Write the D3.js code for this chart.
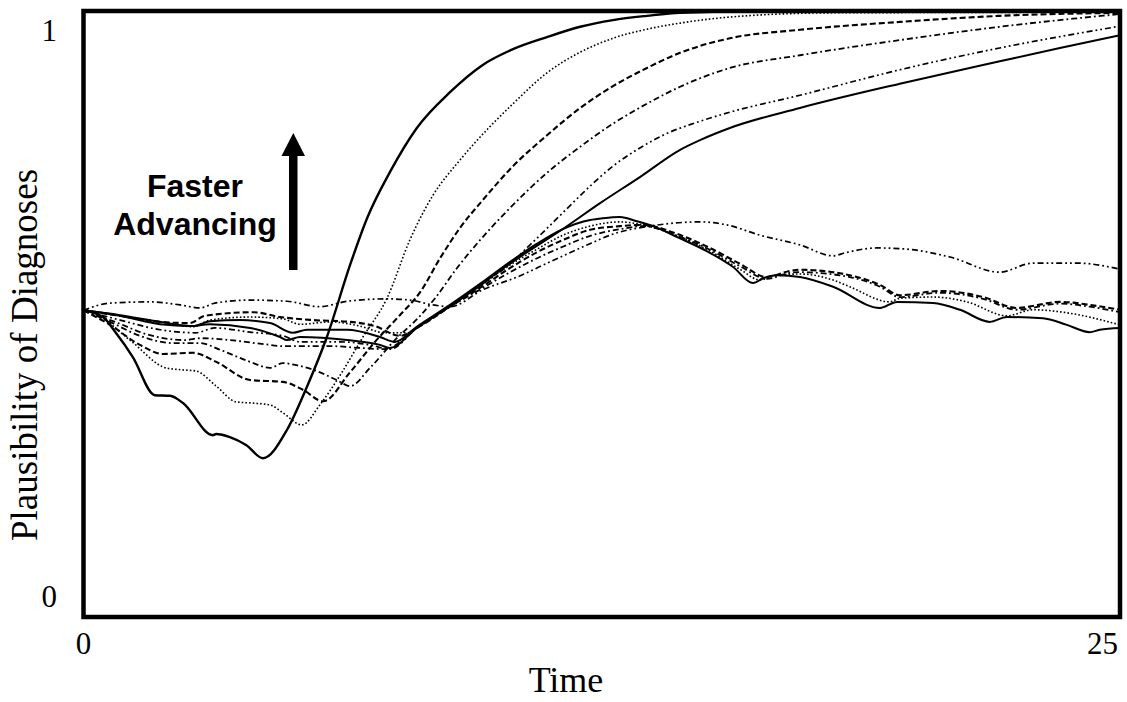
<!DOCTYPE html>
<html><head><meta charset="utf-8">
<script src="https://cdn.jsdelivr.net/npm/d3@7"></script>
<style>html,body{margin:0;padding:0;background:#fff;} svg{display:block;}</style>
</head><body>
<svg id="chart" width="1127" height="702"></svg>
<script>
// ---------- data ----------
const xTickValues = [0, 25];
const yTickValues = [0, 1];
const xTitle = "Time";
const yTitle = "Plausibility of Diagnoses";
const annotationLines = ["Faster", "Advancing"];

// fastest advancing (solid, heavy)
const runA_t = [0, .47, .78, 1.19, 1.72, 2.09, 2.40, 3.12, 3.20, 3.53, 3.92, 4.33, 4.91, 5.39, 5.87, 6.43, 6.84, 7.39, 8.04, 8.84, 9.63, 10.36, 11.18, 11.98, 12.77, 13.59, 14.39, 16.08, 25];
const runA_v = [.506, .495, .469, .429, .366, .365, .353, .300, .302, .297, .284, .262, .309, .380, .462, .581, .658, .734, .807, .866, .911, .937, .957, .974, .985, .992, .997, .999, 1.0];
// dotted
const runB_t = [0, .23, 1.12, 1.99, 2.35, 2.71, 3.20, 3.68, 4.09, 4.50, 4.81, 5.27, 5.70, 6.19, 6.74, 7.32, 7.87, 8.43, 9.08, 9.80, 10.36, 11.18, 11.98, 12.77, 13.59, 14.39, 15.59, 18.08, 25];
const runB_v = [.506, .502, .457, .411, .408, .406, .381, .355, .353, .350, .337, .317, .350, .399, .462, .526, .622, .696, .754, .809, .847, .898, .932, .955, .970, .980, .990, .997, .998];
// dashed
const runC_t = [0, .64, 1.36, 1.92, 2.64, 3.20, 4.02, 4.81, 5.29, 5.78, 6.43, 7.03, 7.63, 8.12, 8.60, 9.08, 9.63, 10.36, 11.18, 11.98, 12.77, 13.59, 14.39, 15.59, 17.28, 19.69, 22.10, 25];
const runC_v = [.506, .482, .449, .434, .436, .421, .391, .388, .375, .356, .404, .454, .498, .536, .592, .642, .688, .744, .795, .840, .876, .906, .931, .955, .969, .982, .992, .997];
// dash-dot
const runD_t = [0, .64, 1.36, 2.16, 2.81, 3.29, 4.02, 4.50, 4.81, 5.10, 5.54, 6.11, 6.43, 6.91, 7.51, 8.12, 8.48, 9.01, 9.63, 10.36, 11.18, 11.98, 12.77, 13.59, 14.39, 14.87, 15.59, 17.28, 19.69, 22.10, 25];
const runD_v = [.506, .487, .464, .452, .452, .441, .421, .411, .419, .416, .408, .391, .381, .411, .457, .497, .526, .576, .627, .680, .733, .776, .814, .847, .875, .889, .906, .927, .952, .974, .995];
// dash-dot-dot
const runE_t = [0, .88, 1.85, 2.71, 3.17, 4.02, 4.81, 5.22, 6.19, 6.91, 7.39, 8.04, 8.84, 9.63, 10.17, 10.77, 11.56, 12.22, 12.77, 13.42, 13.98, 14.87, 15.59, 17.28, 19.69, 22.10, 25];
const runE_v = [.506, .490, .474, .469, .477, .470, .464, .454, .454, .449, .442, .477, .513, .550, .576, .614, .667, .711, .744, .774, .795, .818, .833, .861, .903, .939, .975];
// solid (slowest to rise)
const runF_t = [0, .88, 1.85, 2.57, 3.05, 4.02, 4.74, 4.91, 5.22, 6.36, 7.15, 7.39, 8.04, 8.84, 9.63, 9.97, 10.70, 11.49, 12.46, 13.42, 14.39, 14.87, 15.59, 17.28, 19.69, 22.10, 23.55, 25];
const runF_v = [.506, .497, .483, .480, .483, .477, .462, .457, .462, .457, .449, .444, .477, .513, .550, .568, .602, .637, .683, .726, .771, .787, .807, .840, .880, .917, .939, .960];
// alternative diagnoses (do not take over)
const altG_t = [0, .64, 1.60, 2.33, 2.81, 3.17, 4.02, 4.91, 5.70, 6.36, 7.32, 7.87, 8.43, 8.84, 9.63, 10.46, 11.25, 12.05, 12.87, 13.66, 14.87, 15.52, 16.32, 17.28, 18.08, 18.37, 19.14, 19.86, 20.90, 22.10, 22.90, 23.96, 25];
const altG_v = [.506, .518, .520, .515, .510, .518, .523, .521, .512, .521, .525, .523, .515, .512, .540, .561, .586, .611, .634, .645, .652, .647, .630, .614, .596, .601, .609, .607, .594, .569, .584, .584, .574];
const altH_t = [0, .78, 1.85, 2.57, 2.93, 4.09, 4.74, 5.54, 6.43, 7.03, 7.63, 8.04, 8.84, 9.63, 10.29, 10.94, 11.56, 12.22, 12.94, 13.50, 14.32, 15.11, 15.83, 16.48, 17.04, 17.28, 18.48, 19.21, 19.69, 20.66, 21.70, 22.51, 23.55, 24.27, 25];
const altH_v = [.506, .498, .487, .485, .497, .503, .495, .490, .487, .480, .464, .477, .512, .546, .576, .602, .622, .639, .645, .647, .632, .609, .583, .561, .571, .573, .564, .548, .531, .538, .528, .510, .520, .515, .507];
const altI_t = [0, .88, 1.85, 2.64, 3.05, 4.02, 4.81, 5.22, 5.95, 6.67, 7.27, 7.83, 8.04, 8.84, 9.63, 10.29, 10.94, 11.56, 12.22, 12.94, 13.50, 14.32, 15.11, 15.83, 16.32, 16.68, 17.28, 18.08, 18.48, 19.45, 19.69, 20.49, 21.31, 22.27, 22.90, 23.72, 25];
const altI_v = [.506, .497, .487, .479, .490, .495, .492, .483, .487, .480, .469, .469, .477, .513, .550, .581, .607, .630, .645, .652, .647, .629, .604, .574, .556, .564, .566, .556, .545, .520, .526, .528, .520, .497, .507, .502, .482];
const altJ_t = [0, .88, 1.85, 2.64, 3.05, 3.77, 4.50, 5.05, 5.39, 6.36, 7.15, 7.51, 8.04, 8.84, 9.63, 10.29, 10.94, 11.56, 12.22, 12.53, 12.94, 13.35, 13.74, 14.32, 15.11, 15.66, 16.15, 16.39, 16.73, 17.28, 18.08, 19.21, 19.62, 20.49, 21.14, 21.86, 22.27, 23.14, 23.72, 24.27, 24.51, 25];
const altJ_v = [.506, .498, .487, .480, .488, .490, .485, .469, .474, .474, .462, .454, .479, .515, .553, .586, .616, .640, .655, .658, .660, .653, .645, .627, .601, .578, .551, .559, .564, .561, .545, .510, .520, .518, .507, .487, .495, .493, .482, .470, .474, .477];
const altK_t = [0, .76, 1.60, 2.45, 2.81, 3.53, 4.38, 4.81, 5.22, 5.95, 6.67, 7.27, 8.04, 8.84, 9.63, 10.29, 10.94, 11.56, 12.22, 12.94, 13.50, 14.32, 15.11, 15.83, 16.48, 17.04, 17.28, 18.48, 19.21, 19.69, 20.66, 21.70, 22.51, 23.55, 24.27, 25];
const altK_v = [.506, .487, .465, .457, .460, .457, .450, .447, .447, .447, .444, .442, .477, .512, .543, .569, .592, .611, .629, .640, .645, .629, .606, .579, .558, .568, .569, .561, .545, .528, .535, .525, .507, .517, .512, .503];

// ---------- drawing ----------
const svg = d3.select("#chart");
const x = d3.scaleLinear().domain([0, 25]).range([83.5, 1120]);
const y = d3.scaleLinear().domain([0, 1]).range([617, 11]);

const styles = {
  solidHeavy: {w: 2.4, dash: null},
  solid: {w: 2.0, dash: null},
  dotted: {w: 1.6, dash: "1.6,2.1"},
  dashed: {w: 2.1, dash: "6,3"},
  dashDot: {w: 1.8, dash: "6,3,1.8,3"},
  dashDotDot: {w: 1.7, dash: "6,3,1.8,3,1.8,3"}
};

const series = [
  {t: altG_t, v: altG_v, s: "dashDotDot"},
  {t: altK_t, v: altK_v, s: "dashDot"},
  {t: altH_t, v: altH_v, s: "dashed"},
  {t: altI_t, v: altI_v, s: "dotted"},
  {t: altJ_t, v: altJ_v, s: "solid"},
  {t: runF_t, v: runF_v, s: "solid"},
  {t: runE_t, v: runE_v, s: "dashDotDot"},
  {t: runD_t, v: runD_v, s: "dashDot"},
  {t: runC_t, v: runC_v, s: "dashed"},
  {t: runB_t, v: runB_v, s: "dotted"},
  {t: runA_t, v: runA_v, s: "solidHeavy"}
];

const line = d3.line().x(d => x(d[0])).y(d => y(d[1])).curve(d3.curveMonotoneX);

svg.append("g").selectAll("path").data(series).join("path")
  .attr("d", d => line(d.t.map((tt, i) => [tt, d.v[i]])))
  .attr("fill", "none")
  .attr("stroke", "#000")
  .attr("stroke-width", d => styles[d.s].w)
  .attr("stroke-dasharray", d => styles[d.s].dash)
  .attr("stroke-linejoin", "round");

// frame
svg.append("rect")
  .attr("x", x(0)).attr("y", y(1))
  .attr("width", x(25) - x(0)).attr("height", y(0) - y(1))
  .attr("fill", "none").attr("stroke", "#000").attr("stroke-width", 4.5);

const serif = "'Liberation Serif','Times New Roman',Times,serif";
// y tick labels
svg.append("g").selectAll("text").data(yTickValues).join("text")
  .attr("x", 57)
  .attr("y", d => d === 1 ? y(d) + 30 : y(d) - 10)
  .attr("text-anchor", "end")
  .attr("font-family", serif).attr("font-size", 31)
  .text(d => d);
// x tick labels
svg.append("g").selectAll("text").data(xTickValues).join("text")
  .attr("x", d => d === 0 ? x(d) : x(d) - 2)
  .attr("y", y(0) + 37)
  .attr("text-anchor", d => d === 0 ? "middle" : "end")
  .attr("font-family", serif).attr("font-size", 31)
  .text(d => d);
// axis titles
svg.append("text").attr("x", 566).attr("y", 692)
  .attr("text-anchor", "middle").attr("font-family", serif).attr("font-size", 36)
  .text(xTitle);
svg.append("text").attr("transform", "translate(37,355) rotate(-90)")
  .attr("text-anchor", "middle").attr("font-family", serif).attr("font-size", 37)
  .text(yTitle);

// annotation
const sans = "'Liberation Sans',Arial,Helvetica,sans-serif";
svg.append("g").selectAll("text").data(annotationLines).join("text")
  .attr("x", 195).attr("y", (d, i) => 197 + i * 38)
  .attr("text-anchor", "middle").attr("font-family", sans)
  .attr("font-weight", "bold").attr("font-size", 32)
  .text(d => d);
// arrow
svg.append("rect").attr("x", 289).attr("y", 150).attr("width", 8.5).attr("height", 120).attr("fill", "#000");
svg.append("path").attr("d", "M281.5,156 L305,156 L293.3,133 Z").attr("fill", "#000");
</script>
</body></html>
